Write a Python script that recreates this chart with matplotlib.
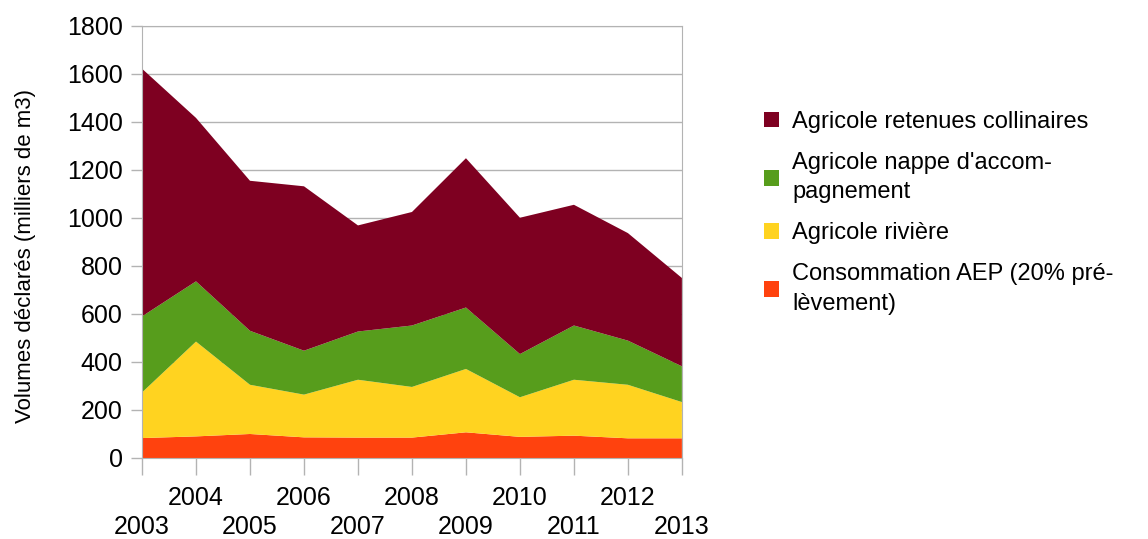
import numpy as np
import matplotlib
matplotlib.use("Agg")
import matplotlib.pyplot as plt
from matplotlib.patches import Patch

plt.rcParams['font.family'] = ['Liberation Sans', 'DejaVu Sans']

# Volumes per year (milliers de m3)
years = [2003, 2004, 2005, 2006, 2007, 2008, 2009, 2010, 2011, 2012, 2013]
aep = [83, 90, 100, 86, 85, 85, 107, 88, 93, 82, 82]
riviere = [190, 395, 205, 178, 241, 211, 264, 165, 233, 223, 151]
nappe = [317, 251, 225, 183, 201, 256, 256, 180, 226, 184, 149]
retenues = [1032, 681, 625, 685, 442, 473, 622, 568, 503, 448, 368]

labels = ["Consommation AEP (20% pré-\nlèvement)",
          "Agricole rivière",
          "Agricole nappe d'accom-\npagnement",
          "Agricole retenues collinaires"]
colors = ["#ff420e", "#ffd320", "#579d1c", "#7e0021"]

fig, ax = plt.subplots(figsize=(11.48, 5.39), dpi=100)
fig.subplots_adjust(left=0.1237, right=0.594, top=0.9518, bottom=0.1503)

ax.stackplot(years, aep, riviere, nappe, retenues, colors=colors, linewidth=0)

ax.set_xlim(years[0], years[-1])
ax.set_ylim(0, 1800)
ax.set_yticks(np.arange(0, 1801, 200))
ax.set_xticks(years)
# stagger the year labels on two rows like the original
ax.set_xticklabels([str(y) if y % 2 == 0 else "\n" + str(y) for y in years])

ax.grid(axis='y', color='#b3b3b3', linewidth=1)
ax.set_axisbelow(True)
for s in ax.spines.values():
    s.set_color('#b3b3b3')
ax.tick_params(axis='both', colors='#b3b3b3', labelcolor='black',
               labelsize=18, length=8, width=1, pad=6)
ax.tick_params(axis='x', pad=8, length=12)
for lbl in ax.get_xticklabels():
    lbl.set_linespacing(1.25)

ax.set_ylabel("Volumes déclarés (milliers de m3)", fontsize=16)
ax.yaxis.set_label_coords(-0.196, 0.468)

# legend: top-most series first
handles = [Patch(facecolor=c) for c in colors[::-1]]
leg = fig.legend(handles, labels[::-1], loc='upper left', bbox_to_anchor=(0.647, 0.834),
                 frameon=False, fontsize=17, handlelength=0.65, handleheight=0.65,
                 handletextpad=0.55, labelspacing=0.8)
for t in leg.get_texts():
    t.set_linespacing(1.45)

fig.savefig("out.png", dpi=100)
